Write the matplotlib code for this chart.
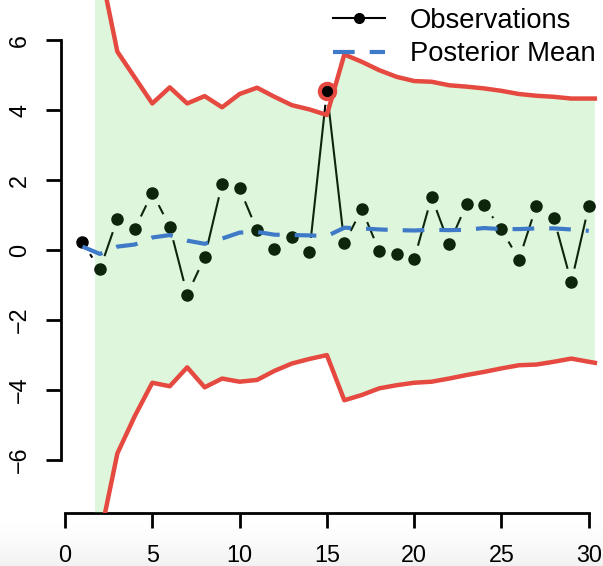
"""
Posterior predictive band with observations and posterior mean.
"""

import numpy as np
import matplotlib.pyplot as plt
from matplotlib.collections import LineCollection
from matplotlib.lines import Line2D

plt.rcParams["font.family"] = ["Liberation Sans", "DejaVu Sans"]

# -------------------------------
# Data
# -------------------------------
time = np.arange(1, 31)

observations = [
    0.22, -0.55, 0.89, 0.60, 1.64, 0.67, -1.27, -0.21, 1.90, 1.76,
    0.57, 0.02, 0.36, -0.05, 4.55, 0.19, 1.17, -0.03, -0.11, -0.26,
    1.52, 0.17, 1.31, 1.29, 0.59, -0.27, 1.26, 0.91, -0.92, 1.26,
]

posterior_mean = [
    0.10, -0.11, 0.10, 0.16, 0.36, 0.43, 0.27, 0.18, 0.33, 0.50,
    0.52, 0.44, 0.43, 0.42, 0.40, 0.64, 0.62, 0.59, 0.57, 0.56,
    0.58, 0.57, 0.58, 0.63, 0.60, 0.60, 0.62, 0.62, 0.59, 0.55,
]

# predictive interval, starting just before t = 2 and running past t = 30
band_x = [1.72] + list(range(2, 31)) + [30.35]

upper_bound = [
    12.0, 8.10, 5.67, 4.93, 4.19, 4.65, 4.19, 4.40, 4.08, 4.46,
    4.64, 4.38, 4.14, 4.02, 3.86, 5.59, 5.38, 5.14, 4.95, 4.83,
    4.81, 4.71, 4.67, 4.62, 4.55, 4.46, 4.41, 4.38, 4.33, 4.33,
    4.33,
]

lower_bound = [
    -12.0, -8.22, -5.81, -4.74, -3.79, -3.89, -3.35, -3.92, -3.67, -3.76,
    -3.71, -3.45, -3.24, -3.11, -3.00, -4.29, -4.14, -3.95, -3.86, -3.79,
    -3.76, -3.67, -3.57, -3.48, -3.38, -3.29, -3.27, -3.19, -3.10, -3.19,
    -3.22,
]

outlier_time = 15

x_ticks = [0, 5, 10, 15, 20, 25, 30]
y_ticks = [-6, -4, -2, 0, 2, 4, 6]

RED = "#E5493F"
BLUE = "#3F7AC8"
BAND = "#4CD23C"


def gapped_segments(ax, x, y, gap):
    """Line pieces between points with a gap around each point (type='b')."""
    pts = ax.transData.transform(np.column_stack([x, y]))
    inv = ax.transData.inverted()
    segs = []
    for p0, p1 in zip(pts[:-1], pts[1:]):
        d = p1 - p0
        length = np.hypot(*d)
        if length <= 2 * gap:
            continue
        u = d / length
        segs.append(inv.transform(np.array([p0 + u * gap, p1 - u * gap])))
    return segs


fig = plt.figure(figsize=(6.03, 5.66), dpi=100)

# faint grey strip along the bottom edge
strip = fig.add_axes([0, 0, 1, 48 / 566], zorder=-1)
shade = np.linspace(0, 1, 64)[:, None] ** 1.5
strip.imshow(shade, cmap="Greys", vmin=0, vmax=9, aspect="auto",
             origin="upper", extent=(0, 1, 0, 1))
strip.set_axis_off()

ax = fig.add_axes([61.5 / 603, 52.7 / 566, 548.2 / 603, 529.2 / 566])
ax.set_facecolor("none")
ax.set_xlim(-0.2, 31.2)
ax.set_ylim(-7.52, 7.6)

# Observations: points joined by broken lines
segs = gapped_segments(ax, time, observations, gap=14)
ax.add_collection(LineCollection(segs, colors="black", linewidths=1.5,
                                 zorder=2))
ax.plot(time, observations, "o", color="black", markersize=8, zorder=2)

# Predictive band laid over the data
ax.fill_between(band_x, lower_bound, upper_bound, color=BAND, alpha=0.18,
                linewidth=0, zorder=3)

# Posterior mean
ax.plot(time, posterior_mean, color=BLUE, linewidth=3,
        linestyle=(0, (5.2, 3.6)), zorder=4)

# Interval limits
ax.plot(band_x, upper_bound, color=RED, linewidth=3.2, zorder=5)
ax.plot(band_x, lower_bound, color=RED, linewidth=3.2, zorder=5)

# Highlight the outlying observation
i = outlier_time - 1
ax.plot(time[i], observations[i], "o", markersize=13, color=RED, zorder=6)
ax.plot(time[i], observations[i], "o", markersize=7, color="black", zorder=7)

# -------------------------------
# Axes styling
# -------------------------------
for side in ["top", "right"]:
    ax.spines[side].set_visible(False)
for side in ["left", "bottom"]:
    ax.spines[side].set_linewidth(2)
ax.spines["bottom"].set_bounds(0, 30)
ax.spines["left"].set_bounds(-6, 6)

ax.set_xticks(x_ticks)
ax.set_yticks(y_ticks)
ax.tick_params(length=10.8, width=2, labelsize=16.8, pad=11)
ax.tick_params(axis="y", labelrotation=90)
for lab in ax.get_yticklabels():
    lab.set_verticalalignment("center")

handles = [
    Line2D([], [], color="black", linewidth=1.5, marker="o", markersize=7),
    Line2D([], [], color=BLUE, linewidth=3, linestyle=(0, (5.2, 3.6))),
]
ax.legend(handles, ["Observations", "Posterior Mean"],
          loc="upper left", bbox_to_anchor=(333 / 603, 1 - 8 / 566),
          bbox_transform=fig.transFigure, frameon=False, fontsize=19.7,
          handlelength=1.9, handletextpad=0.91, labelspacing=0.26,
          borderpad=0, borderaxespad=0, numpoints=1)

fig.savefig("out.png", dpi=100)
